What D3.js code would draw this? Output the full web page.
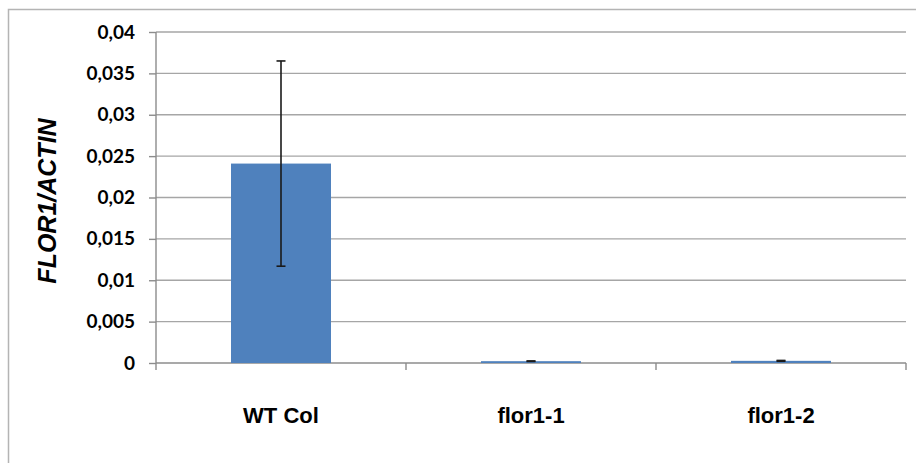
<!DOCTYPE html>
<html>
<head>
<meta charset="utf-8">
<script src="https://cdn.jsdelivr.net/npm/d3@7"></script>
<style>
  body { margin: 0; background: #fff; }
  svg { display: block; }
</style>
</head>
<body>
<svg></svg>
<script>
// ---- DATA ----
const categories = ["WT Col", "flor1-1", "flor1-2"];
const means = [0.0241, 0.00022, 0.00026];
const errors = [0.0124, 0.00003, 0.00005];
const yTicks = [0, 0.005, 0.01, 0.015, 0.02, 0.025, 0.03, 0.035, 0.04];
const yTitle = "FLOR1/ACTIN";

const W = 916, H = 463;
const margin = { top: 32, right: 10, bottom: 100, left: 156 };
const plotW = 906 - margin.left;
const plotH = 363 - margin.top;

const svg = d3.select("svg").attr("width", W).attr("height", H);

// outer frame (cropped)
svg.append("path")
    .attr("d", `M8.5,${H} V9.5 H${W}`)
    .attr("fill", "none")
    .attr("stroke", "#b4b4b4")
    .attr("stroke-width", 1.5);

const g = svg.append("g")
    .attr("transform", `translate(${margin.left},${margin.top})`);

// ---- SCALES ----
const x = d3.scaleBand().domain(categories).range([0, plotW]).paddingInner(0.6).paddingOuter(0.3);
const xBand = d3.scaleBand().domain(categories).range([0, plotW]);
const y = d3.scaleLinear().domain([0, 0.04]).range([plotH, 0]);

const locale = d3.formatLocale({ decimal: ",", thousands: ".", grouping: [3], currency: ["", ""] });
const fmt = locale.format("~f");

// ---- GRID ----
g.append("g")
    .selectAll("line")
    .data(yTicks.filter(d => d > 0))
    .join("line")
    .attr("x1", 0).attr("x2", plotW)
    .attr("y1", d => y(d)).attr("y2", d => y(d))
    .attr("stroke", "#a6a6a6")
    .attr("stroke-width", 1.4);

// ---- Y AXIS ----
const yAxisG = g.append("g")
    .call(d3.axisLeft(y).tickValues(yTicks).tickFormat(fmt).tickSize(7).tickPadding(14));
yAxisG.select(".domain").remove();
yAxisG.selectAll(".tick line").attr("stroke", "#8c8c8c").attr("stroke-width", 1.4);
yAxisG.selectAll(".tick text")
    .attr("fill", "#000")
    .style("font-family", "Lato, 'Open Sans', sans-serif")
    .style("font-weight", "bold")
    .style("font-size", "19px");

g.append("line")
    .attr("x1", 0).attr("x2", 0)
    .attr("y1", 0).attr("y2", plotH + 7)
    .attr("stroke", "#8c8c8c").attr("stroke-width", 1.4);

// ---- X AXIS ----
g.append("line")
    .attr("x1", 0).attr("x2", plotW)
    .attr("y1", plotH).attr("y2", plotH)
    .attr("stroke", "#8c8c8c").attr("stroke-width", 1.6);

g.append("g")
    .selectAll("line")
    .data(categories)
    .join("line")
    .attr("x1", d => xBand(d) + xBand.bandwidth())
    .attr("x2", d => xBand(d) + xBand.bandwidth())
    .attr("y1", plotH).attr("y2", plotH + 7)
    .attr("stroke", "#8c8c8c").attr("stroke-width", 1.4);

g.append("g")
    .selectAll("text")
    .data(categories)
    .join("text")
    .attr("x", d => xBand(d) + xBand.bandwidth() / 2)
    .attr("y", plotH + 60)
    .attr("text-anchor", "middle")
    .style("font-family", "'Liberation Sans', Arial, sans-serif")
    .style("font-weight", "bold")
    .style("font-size", "22px")
    .text(d => d);

// ---- BARS ----
g.append("g")
    .selectAll("rect")
    .data(categories)
    .join("rect")
    .attr("x", d => x(d))
    .attr("width", x.bandwidth())
    .attr("y", (d, i) => y(means[i]))
    .attr("height", (d, i) => y(0) - y(means[i]))
    .attr("fill", "#4f81bd");

// ---- ERROR BARS ----
const eb = g.append("g")
    .attr("stroke", "#1a1a1a")
    .attr("stroke-width", 1.6);

categories.forEach((c, i) => {
    const cx = x(c) + x.bandwidth() / 2;
    const hi = y(means[i] + errors[i]);
    const lo = y(means[i] - errors[i]);
    eb.append("line").attr("x1", cx).attr("x2", cx).attr("y1", hi).attr("y2", lo);
    eb.append("line").attr("x1", cx - 4.5).attr("x2", cx + 4.5).attr("y1", hi).attr("y2", hi);
    eb.append("line").attr("x1", cx - 4.5).attr("x2", cx + 4.5).attr("y1", lo).attr("y2", lo);
});

// ---- Y TITLE ----
svg.append("text")
    .attr("transform", `translate(56,${(113 + 289) / 2}) rotate(-90)`)
    .attr("text-anchor", "middle")
    .style("font-family", "'Liberation Sans', Arial, sans-serif")
    .style("font-weight", "bold")
    .style("font-style", "italic")
    .style("font-size", "25px")
    .text(yTitle);
</script>
</body>
</html>
